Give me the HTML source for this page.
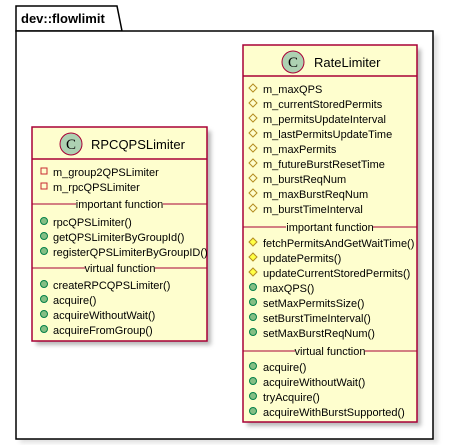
<!DOCTYPE html>
<html><head><meta charset="utf-8"><style>
html,body{margin:0;padding:0;background:#fff;}
svg{display:block;}
text{font-family:"Liberation Sans",sans-serif;font-size:11px;fill:#000;}
</style></head><body>
<svg width="449" height="445" viewBox="0 0 449 445" xmlns="http://www.w3.org/2000/svg">
<defs>
<filter id="sh" x="-10%" y="-10%" width="130%" height="130%"><feGaussianBlur stdDeviation="2"/></filter>
<g id="dp"><polygon points="0,-4 4,0 0,4 -4,0" fill="none" stroke="#B38D22" stroke-width="1"/></g>
<g id="dm"><polygon points="0,-4 4,0 0,4 -4,0" fill="#FFFF44" stroke="#B38D22" stroke-width="1"/></g>
<g id="pu"><circle r="3.5" fill="#84BE84" stroke="#038048" stroke-width="1"/></g>
<g id="pr"><rect x="-3" y="-3" width="6" height="6" fill="none" stroke="#C82930" stroke-width="1"/></g>
</defs>
<!-- package -->
<rect x="20" y="35" width="418" height="408" fill="#ccc" filter="url(#sh)" opacity="0.6"/>
<polygon points="16,31 16,6 117,6 122,31" fill="#fff" stroke="#000" stroke-width="1.5"/>
<rect x="16" y="31" width="417" height="408" fill="#fff" stroke="#000" stroke-width="1.5"/>
<text x="21" y="23" style="font-weight:bold;font-size:13px">dev::flowlimit</text>

<!-- RPCQPSLimiter -->
<rect x="36" y="131" width="175" height="214" fill="#999" filter="url(#sh)" opacity="0.7"/>
<rect x="32" y="127" width="175" height="214" fill="#FEFECE" stroke="#A80036" stroke-width="1.5"/>
<circle cx="71" cy="144" r="11" fill="#ADD1B2" stroke="#A80036" stroke-width="1"/>
<text x="71" y="149" text-anchor="middle" style="font-family:'Liberation Serif',serif;font-size:15px">C</text>
<text x="91" y="149" style="font-size:13px">RPCQPSLimiter</text>
<line x1="32" y1="159" x2="207" y2="159" stroke="#A80036" stroke-width="1.5"/>
<use href="#pr" x="44" y="171"/><text x="53" y="176">m_group2QPSLimiter</text>
<use href="#pr" x="44" y="186"/><text x="53" y="191">m_rpcQPSLimiter</text>
<line x1="32" y1="204" x2="76" y2="204" stroke="#A80036" stroke-width="1"/>
<line x1="163" y1="204" x2="207" y2="204" stroke="#A80036" stroke-width="1"/>
<text x="119.5" y="208" text-anchor="middle">important function</text>
<use href="#pu" x="44" y="221"/><text x="53" y="226">rpcQPSLimiter()</text>
<use href="#pu" x="44" y="236"/><text x="53" y="241">getQPSLimiterByGroupId()</text>
<use href="#pu" x="44" y="251"/><text x="53" y="256">registerQPSLimiterByGroupID()</text>
<line x1="32" y1="268" x2="85" y2="268" stroke="#A80036" stroke-width="1"/>
<line x1="155" y1="268" x2="207" y2="268" stroke="#A80036" stroke-width="1"/>
<text x="120" y="272" text-anchor="middle">virtual function</text>
<use href="#pu" x="44" y="284"/><text x="53" y="289">createRPCQPSLimiter()</text>
<use href="#pu" x="44" y="299"/><text x="53" y="304">acquire()</text>
<use href="#pu" x="44" y="314"/><text x="53" y="319">acquireWithoutWait()</text>
<use href="#pu" x="44" y="329"/><text x="53" y="334">acquireFromGroup()</text>

<!-- RateLimiter -->
<rect x="247" y="49" width="174" height="377" fill="#999" filter="url(#sh)" opacity="0.7"/>
<rect x="243" y="45" width="174" height="377" fill="#FEFECE" stroke="#A80036" stroke-width="1.5"/>
<circle cx="293" cy="62" r="11" fill="#ADD1B2" stroke="#A80036" stroke-width="1"/>
<text x="293" y="67" text-anchor="middle" style="font-family:'Liberation Serif',serif;font-size:15px">C</text>
<text x="314" y="67" style="font-size:13px">RateLimiter</text>
<line x1="243" y1="76" x2="417" y2="76" stroke="#A80036" stroke-width="1.5"/>
<use href="#dp" x="253" y="88"/><text x="263" y="93">m_maxQPS</text>
<use href="#dp" x="253" y="103"/><text x="263" y="108">m_currentStoredPermits</text>
<use href="#dp" x="253" y="118"/><text x="263" y="123">m_permitsUpdateInterval</text>
<use href="#dp" x="253" y="133"/><text x="263" y="138">m_lastPermitsUpdateTime</text>
<use href="#dp" x="253" y="148"/><text x="263" y="153">m_maxPermits</text>
<use href="#dp" x="253" y="163"/><text x="263" y="168">m_futureBurstResetTime</text>
<use href="#dp" x="253" y="178"/><text x="263" y="183">m_burstReqNum</text>
<use href="#dp" x="253" y="193"/><text x="263" y="198">m_maxBurstReqNum</text>
<use href="#dp" x="253" y="208"/><text x="263" y="213">m_burstTimeInterval</text>
<line x1="243" y1="227" x2="286" y2="227" stroke="#A80036" stroke-width="1"/>
<line x1="373" y1="227" x2="417" y2="227" stroke="#A80036" stroke-width="1"/>
<text x="330" y="231" text-anchor="middle">important function</text>
<use href="#dm" x="253" y="242"/><text x="263" y="247">fetchPermitsAndGetWaitTime()</text>
<use href="#dm" x="253" y="257"/><text x="263" y="262">updatePermits()</text>
<use href="#dm" x="253" y="272"/><text x="263" y="277">updateCurrentStoredPermits()</text>
<use href="#pu" x="253" y="287"/><text x="263" y="292">maxQPS()</text>
<use href="#pu" x="253" y="302"/><text x="263" y="307">setMaxPermitsSize()</text>
<use href="#pu" x="253" y="317"/><text x="263" y="322">setBurstTimeInterval()</text>
<use href="#pu" x="253" y="332"/><text x="263" y="337">setMaxBurstReqNum()</text>
<line x1="243" y1="351" x2="295" y2="351" stroke="#A80036" stroke-width="1"/>
<line x1="365" y1="351" x2="417" y2="351" stroke="#A80036" stroke-width="1"/>
<text x="330" y="355" text-anchor="middle">virtual function</text>
<use href="#pu" x="253" y="366"/><text x="263" y="371">acquire()</text>
<use href="#pu" x="253" y="381"/><text x="263" y="386">acquireWithoutWait()</text>
<use href="#pu" x="253" y="396"/><text x="263" y="401">tryAcquire()</text>
<use href="#pu" x="253" y="411"/><text x="263" y="416">acquireWithBurstSupported()</text>
</svg>
</body></html>
